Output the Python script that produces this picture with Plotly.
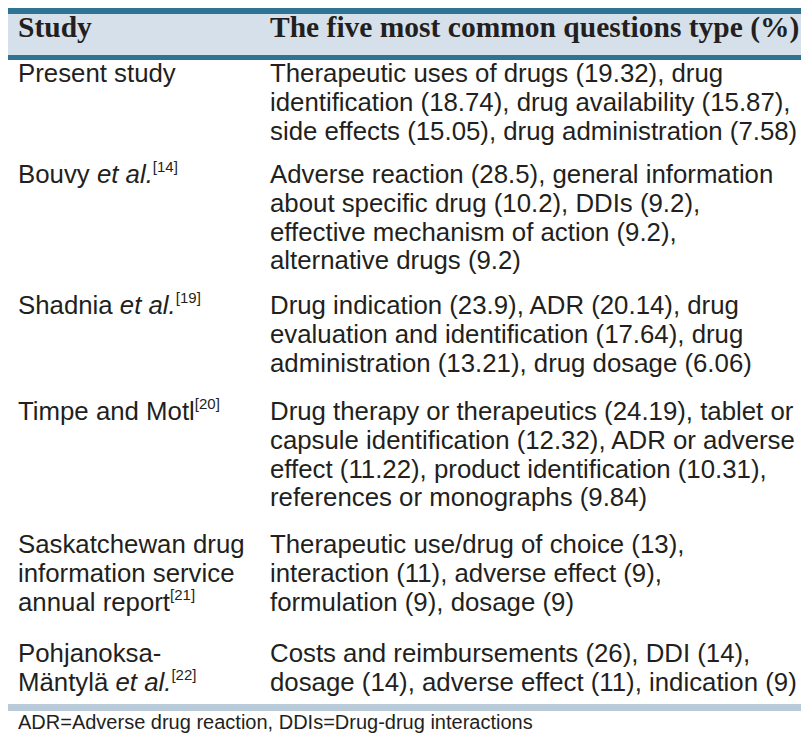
import plotly.graph_objects as go

# table content
header = ["Study", "The five most common questions type (%)"]

studies = [
    "Present study",
    "Bouvy <i>et al.</i><sup>[14]</sup>",
    "Shadnia <i>et al.</i><sup>[19]</sup>",
    "Timpe and Motl<sup>[20]</sup>",
    "Saskatchewan drug<br>information service<br>annual report<sup>[21]</sup>",
    "Pohjanoksa-<br>Mäntylä <i>et al.</i><sup>[22]</sup>",
]

question_types = [
    "Therapeutic uses of drugs (19.32), drug<br>identification (18.74), drug availability (15.87),<br>"
    "side effects (15.05), drug administration (7.58)",
    "Adverse reaction (28.5), general information<br>about specific drug (10.2), DDIs (9.2),<br>"
    "effective mechanism of action (9.2),<br>alternative drugs (9.2)",
    "Drug indication (23.9), ADR (20.14), drug<br>evaluation and identification (17.64), drug<br>"
    "administration (13.21), drug dosage (6.06)",
    "Drug therapy or therapeutics (24.19), tablet or<br>capsule identification (12.32), ADR or adverse<br>"
    "effect (11.22), product identification (10.31),<br>references or monographs (9.84)",
    "Therapeutic use/drug of choice (13),<br>interaction (11), adverse effect (9),<br>"
    "formulation (9), dosage (9)",
    "Costs and reimbursements (26), DDI (14),<br>dosage (14), adverse effect (11), indication (9)",
]

footnote = "ADR=Adverse drug reaction, DDIs=Drug-drug interactions"

W, H = 809, 739
TEAL = "#2e7393"
HEAD_BG = "#d6e0ea"
BOTTOM = "#b9cad8"
INK = "#231f20"

row_top = [72, 173, 304, 410, 543, 652]   # centre of first line of each row
line_step = 28.8
col_x = [8, 260]

fig = go.Figure()

# bands
fig.add_shape(type="rect", x0=0, x1=W, y0=0, y1=6, fillcolor=TEAL, line_width=0, layer="below")
fig.add_shape(type="rect", x0=0, x1=W, y0=6, y1=47, fillcolor=HEAD_BG, line_width=0, layer="below")
fig.add_shape(type="rect", x0=0, x1=W, y0=47, y1=52, fillcolor=TEAL, line_width=0, layer="below")
fig.add_shape(type="rect", x0=0, x1=W, y0=696, y1=703, fillcolor=BOTTOM, line_width=0, layer="below")

# header
for x, txt in zip(col_x, header):
    fig.add_annotation(x=x, y=19, text="<b>" + txt + "</b>", showarrow=False,
                       xanchor="left", yanchor="middle",
                       font=dict(family="Liberation Serif", size=29.5, color=INK))

# body, one annotation per line so the line spacing can be set;
# anchored at the bottom so superscripts don't push the baseline around
for r, y0 in enumerate(row_top):
    for x, cell in zip(col_x, [studies[r], question_types[r]]):
        for k, line in enumerate(cell.split("<br>")):
            line = line.replace("<sup>", "<sup><span style='font-size:15px'>").replace("</sup>", "</span></sup>")
            fig.add_annotation(x=x, y=y0 + 9 + k * line_step, text=line, showarrow=False,
                               xanchor="left", yanchor="bottom",
                               font=dict(family="Liberation Sans", size=25.8, color=INK))

fig.add_annotation(x=8, y=714, text=footnote, showarrow=False,
                   xanchor="left", yanchor="middle",
                   font=dict(family="Liberation Sans", size=20, color=INK))

fig.update_xaxes(range=[0, W], visible=False, fixedrange=True)
fig.update_yaxes(range=[H, 0], visible=False, fixedrange=True)
fig.update_layout(width=W, height=H, margin=dict(l=0, r=0, t=0, b=0),
                  paper_bgcolor="white", plot_bgcolor="white", showlegend=False)

fig.write_html("out.html")
